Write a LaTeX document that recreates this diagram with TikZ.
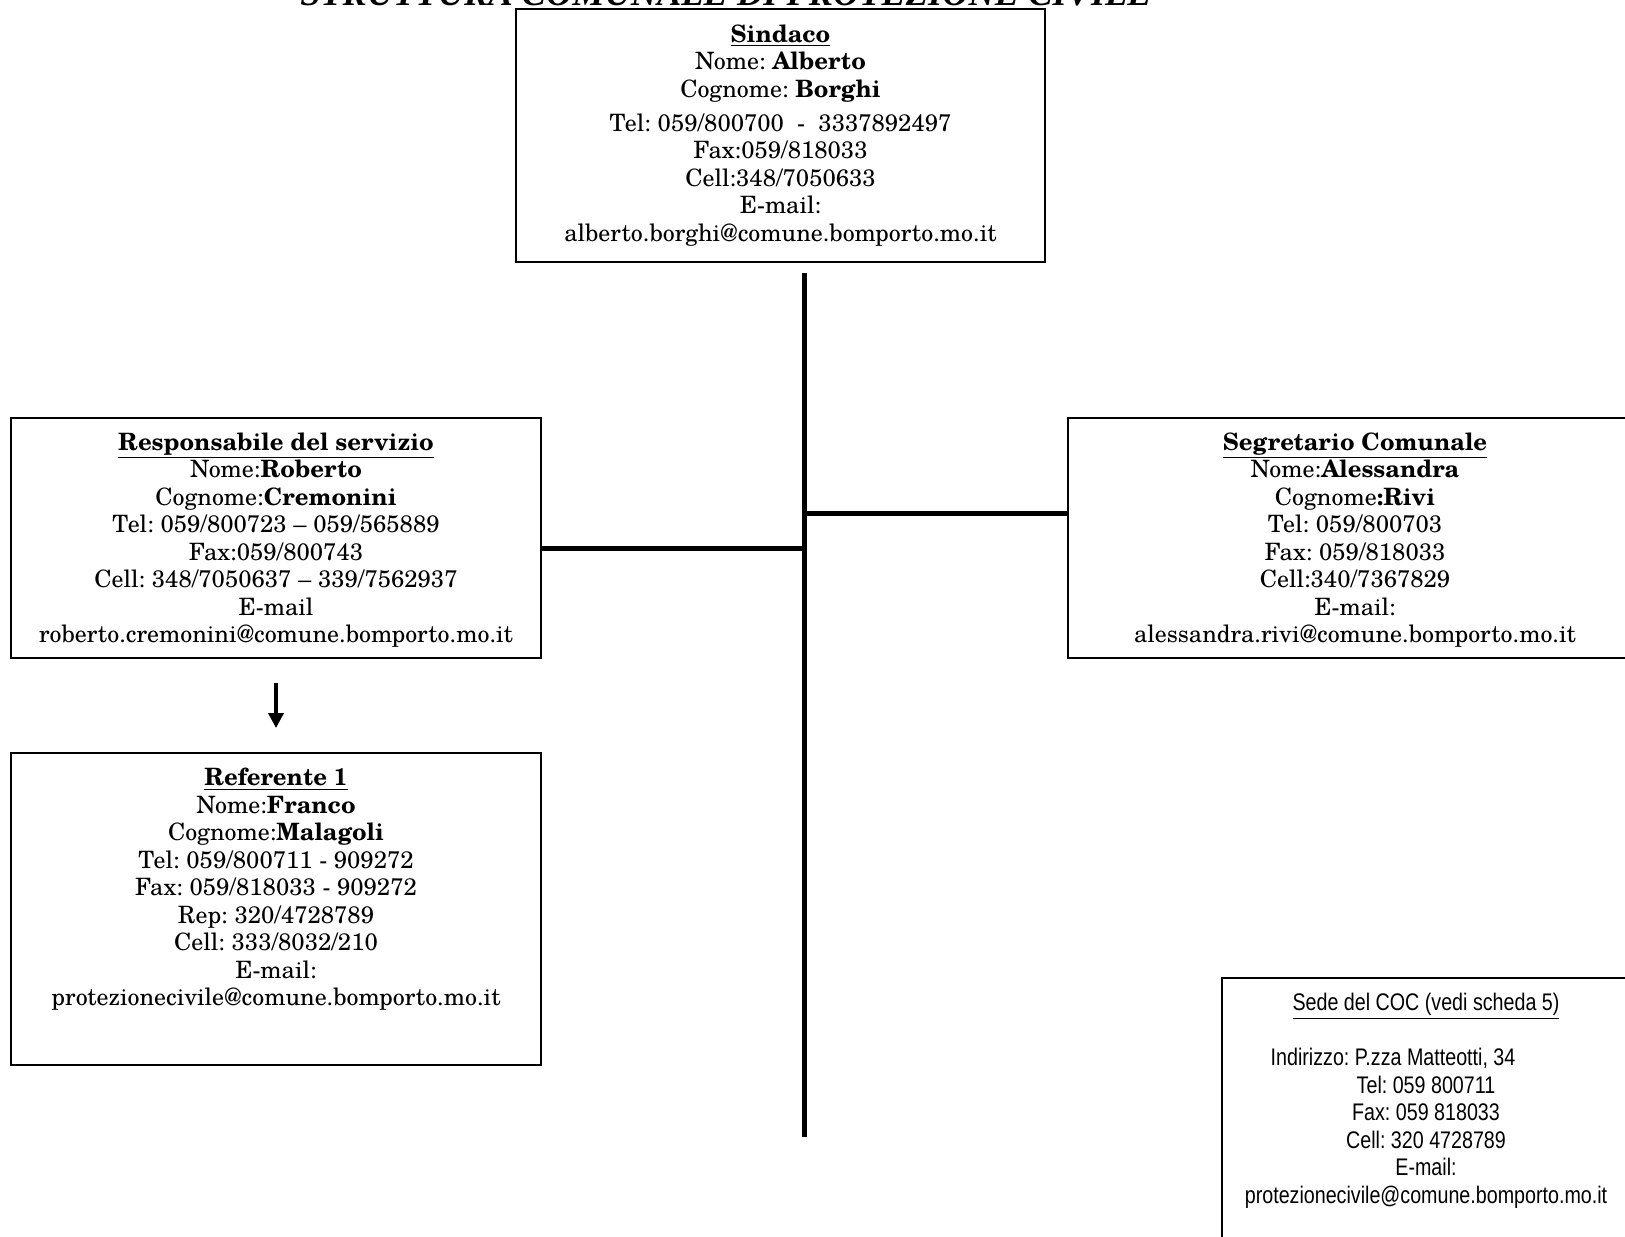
\documentclass[tikz,border=0pt]{standalone}
\usepackage{fontspec}
\setmainfont{texgyreschola}[Extension=.otf, UprightFont=*-regular, BoldFont=*-bold, ItalicFont=*-italic, BoldItalicFont=*-bolditalic]
\newfontfamily\narrowfont{Liberation Sans}[FakeStretch=0.82]
\newfontfamily\titlefont{Liberation Serif}
\usetikzlibrary{arrows.meta}
\frenchspacing
\tikzset{
  box/.style={draw=black, line width=1pt, rectangle, inner sep=0pt, fill=none},
  conn/.style={line width=2.5pt, black},
  arr/.style={line width=1.8pt, -{Triangle[width=7.5pt,length=7.5pt]}, shorten <=12pt, shorten >=12pt},
  txt/.style={anchor=north, inner sep=0pt, align=center, font=\frenchspacing\fontsize{11.95pt}{13.75pt}\selectfont},
  coctxt/.style={anchor=north, inner sep=0pt, align=center, font=\frenchspacing\narrowfont\fontsize{12pt}{13.75pt}\selectfont},
  titletxt/.style={anchor=base, inner sep=0pt, font=\titlefont\bfseries\itshape\fontsize{18.2pt}{20pt}\selectfont}
}
\begin{document}
\begin{tikzpicture}[x=0.5pt,y=-0.5pt]
\useasboundingbox (0,0) rectangle (1625,1236);
% title (cut by the top edge, as in the reference)
\node[titletxt] (title) at (726,6) {STRUTTURA COMUNALE DI PROTEZIONE CIVILE};
% boxes
\node[box, minimum width=264.5pt, minimum height=126.5pt] (sind) at (780.5,135.5) {};
\node[box, minimum width=265pt, minimum height=120pt] (resp) at (276,538) {};
\node[box, minimum width=287pt, minimum height=120pt] (segr) at (1355,538) {};
\node[box, minimum width=265pt, minimum height=156pt] (refe) at (276,909) {};
\node[box, minimum width=204pt, minimum height=146pt] (coc) at (1426,1124) {};
% texts
\node[txt] (sindt) at (780.5,24) {\underline{\textbf{Sindaco}}\\
Nome: \textbf{Alberto}\\
Cognome: \textbf{Borghi}\\[3.25pt]
Tel: 059/800700 \ - \ 3337892497\\
Fax:059/818033\\
Cell:348/7050633\\
E-mail:\\
alberto.borghi@comune.bomporto.mo.it};
\node[txt] (respt) at (276,432) {\underline{\textbf{Responsabile del servizio}}\\
Nome:\textbf{Roberto}\\
Cognome:\textbf{Cremonini}\\
Tel: 059/800723 -- 059/565889\\
Fax:059/800743\\
Cell: 348/7050637 -- 339/7562937\\
E-mail\\
roberto.cremonini@comune.bomporto.mo.it};
\node[txt] (segrt) at (1355,432) {\underline{\textbf{Segretario Comunale}}\\
Nome:\textbf{Alessandra}\\
Cognome\textbf{:Rivi}\\
Tel: 059/800703\\
Fax: 059/818033\\
Cell:340/7367829\\
E-mail:\\
alessandra.rivi@comune.bomporto.mo.it};
\node[txt] (refet) at (276,768) {\underline{\textbf{Referente 1}}\\
Nome:\textbf{Franco}\\
Cognome:\textbf{Malagoli}\\
Tel: 059/800711 - 909272\\
Fax: 059/818033 - 909272\\
Rep: 320/4728789\\
Cell: 333/8032/210\\
E-mail:\\
protezionecivile@comune.bomporto.mo.it};
\node[coctxt] (coct) at (1426,993) {\underline{Sede del COC (vedi scheda 5)}\\[13.75pt]
Indirizzo: P.zza Matteotti, 34\rule{33pt}{0pt}\\
Tel: 059 800711\\
Fax: 059 818033\\
Cell: 320 4728789\\
E-mail:\\
protezionecivile@comune.bomporto.mo.it};
% connectors
\coordinate (jL) at (804,548);
\coordinate (jR) at (804,513);
\coordinate (vbot) at (804,1137);
\draw[conn] ([yshift=-5pt]sind.south -| jL) -- (vbot);
\draw[conn] (resp.east |- jL) -- (jL);
\draw[conn] (jR) -- (segr.west |- jR);
\draw[arr] (resp.south) -- (refe.north);
\end{tikzpicture}
\end{document}
